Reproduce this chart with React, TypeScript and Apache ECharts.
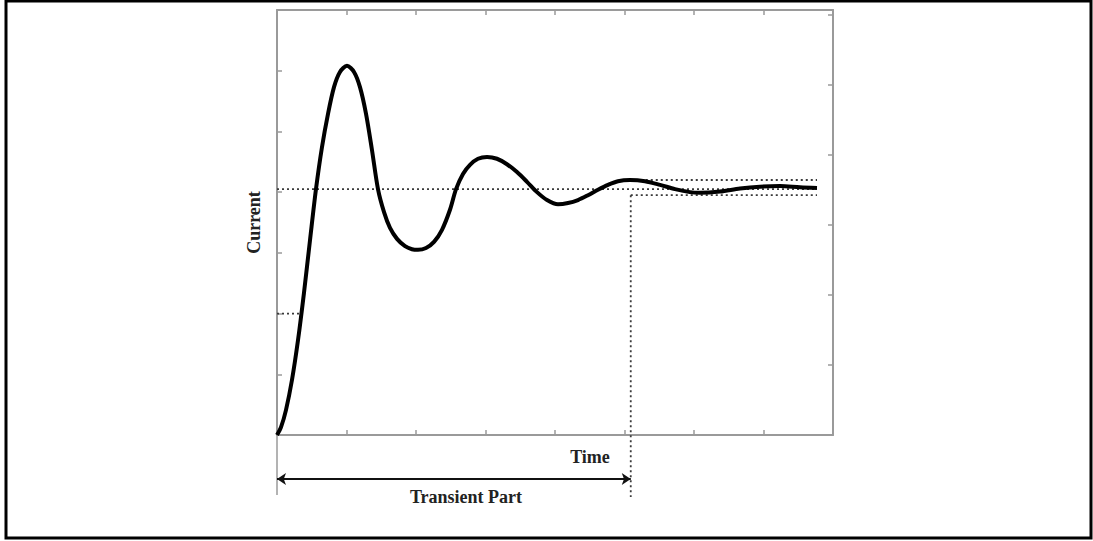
import React, { useEffect, useRef } from "react";
import * as echarts from "echarts";

// Time axis (arbitrary units), 8 divisions
const timeMin = 0;
const timeMax = 8;
// Current axis (arbitrary units), 7 divisions on the left, finer ticks on the right
const currentMin = 0;
const currentMax = 7;
const rightTickStep = 1.153;

// Step response
const responseTime = [
  0, 0.058, 0.129, 0.216, 0.302, 0.388, 0.475, 0.561, 0.647, 0.734, 0.82, 0.906, 1.007,
  1.108, 1.194, 1.281, 1.367, 1.453, 1.54, 1.626, 1.727, 1.842, 1.942, 2.029, 2.144, 2.259,
  2.374, 2.489, 2.576, 2.676, 2.777, 2.892, 3.022, 3.165, 3.309, 3.453, 3.597, 3.741, 3.885,
  4.043, 4.187, 4.331, 4.475, 4.619, 4.763, 4.906, 5.079, 5.295, 5.511, 5.727, 5.942, 6.086,
  6.374, 6.662, 6.95, 7.237, 7.525, 7.77,
];
const responseCurrent = [
  0, 0.13, 0.41, 0.91, 1.56, 2.34, 3.21, 4.05, 4.74, 5.29, 5.73, 5.98, 6.08,
  5.98, 5.73, 5.29, 4.69, 4.05, 3.67, 3.41, 3.23, 3.11, 3.06, 3.05, 3.08, 3.18,
  3.38, 3.71, 4.05, 4.3, 4.45, 4.55, 4.58, 4.55, 4.46, 4.33, 4.17, 4.0, 3.87,
  3.8, 3.82, 3.87, 3.95, 4.04, 4.12, 4.18, 4.2, 4.18, 4.12, 4.05, 4.0, 3.99,
  4.01, 4.06, 4.09, 4.1, 4.08, 4.07,
];

// Reference levels
const steadyState = 4.05;
const bandUpper = 4.2;
const bandLower = 3.95;
const halfLevel = 2.0;
const halfLevelTime = 0.33;
const settlingTime = 5.09;
const endTime = 7.77;
// annotation levels below the time axis
const arrowLevel = -0.725;
const settleLineBottom = -1.02;
const leftLineBottom = -0.99;

const labelTime = "Time";
const labelCurrent = "Current";
const labelTransient = "Transient Part";

export default function App() {
  const ref = useRef<HTMLDivElement>(null);
  useEffect(() => {
    if (!ref.current) return;
    const chart = echarts.init(ref.current, undefined, { renderer: "svg" });
    const gray = "#9a9a9a";
    const dotted = { color: "#3a3a3a", width: 1.8, type: [2, 3] as any };
    const font = "'Liberation Serif', 'Times New Roman', serif";
    const axisBase = {
      axisLine: { show: true, onZero: false, lineStyle: { color: gray, width: 2 } },
      axisTick: { show: true, inside: true, length: 5, lineStyle: { color: gray, width: 1.5 } },
      axisLabel: { show: false },
      splitLine: { show: false },
    };
    chart.setOption({
      animation: false,
      backgroundColor: "#fff",
      grid: { left: 277, top: 10, width: 556, height: 425, containLabel: false },
      xAxis: [
        { type: "value", position: "bottom", min: timeMin, max: timeMax, interval: 1, ...axisBase },
        { type: "value", position: "top", min: timeMin, max: timeMax, interval: 1, ...axisBase },
      ],
      yAxis: [
        {
          type: "value", position: "left", min: currentMin, max: currentMax, interval: 1, ...axisBase,
          name: labelCurrent, nameLocation: "middle", nameGap: 14, nameRotate: 90,
          nameTextStyle: { fontFamily: font, fontWeight: "bold", fontSize: 18, color: "#222", padding: [0, 0, 0, 0] },
        },
        { type: "value", position: "right", min: currentMin, max: currentMax, interval: rightTickStep, ...axisBase },
      ],
      series: [
        {
          type: "line", data: [[0, steadyState], [endTime, steadyState]], symbol: "none",
          lineStyle: dotted, z: 2,
        },
        {
          type: "line", data: [[settlingTime, bandUpper], [endTime, bandUpper]], symbol: "none",
          lineStyle: dotted, z: 2,
        },
        {
          type: "line", data: [[settlingTime, bandLower], [endTime, bandLower]], symbol: "none",
          lineStyle: dotted, z: 2,
        },
        {
          type: "line", data: [[0, halfLevel], [halfLevelTime, halfLevel]], symbol: "none",
          lineStyle: dotted, z: 2,
        },
        {
          type: "line", data: [[settlingTime, bandLower], [settlingTime, settleLineBottom]], symbol: "none",
          lineStyle: dotted, z: 2, clip: false,
        },
        {
          type: "line", data: [[0, 0], [0, leftLineBottom]], symbol: "none",
          lineStyle: { color: gray, width: 1.5 }, z: 2, clip: false,
        },
        {
          type: "lines", coordinateSystem: "cartesian2d", clip: false,
          symbol: ["arrow", "arrow"], symbolSize: 9,
          lineStyle: { color: "#111", width: 2, opacity: 1 },
          data: [{ coords: [[0, arrowLevel], [settlingTime, arrowLevel]] }],
          z: 3,
        },
        {
          type: "line", smooth: 0.3, symbol: "none",
          data: responseTime.map((t, i) => [t, responseCurrent[i]]),
          lineStyle: { color: "#000", width: 4 }, z: 5,
        },
      ],
      graphic: [
        {
          type: "rect", shape: { x: 6, y: 1, width: 1085, height: 537 },
          style: { fill: "none", stroke: "#000", lineWidth: 3 }, silent: true,
        },
        {
          type: "text", x: 590, y: 457,
          style: { text: labelTime, font: `bold 18px ${font}`, fill: "#222", align: "center", verticalAlign: "middle" },
        },
        {
          type: "text", x: 466, y: 497,
          style: { text: labelTransient, font: `bold 18px ${font}`, fill: "#222", align: "center", verticalAlign: "middle" },
        },
      ],
    });
    return () => chart.dispose();
  }, []);
  return <div ref={ref} style={{ position: "absolute", left: 0, top: 0, width: 1093, height: 541 }} />;
}
